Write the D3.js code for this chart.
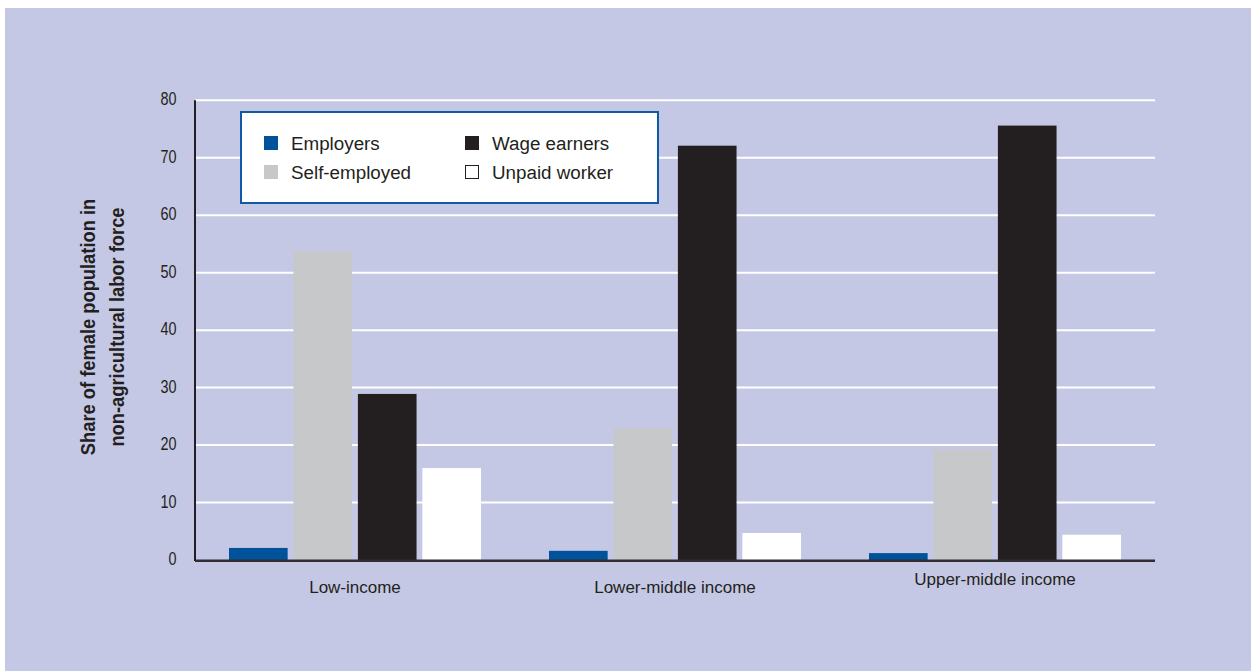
<!DOCTYPE html>
<html>
<head>
<meta charset="utf-8">
<script src="https://cdn.jsdelivr.net/npm/d3@7"></script>
<style>
  html, body { margin: 0; padding: 0; background: #ffffff; }
  svg { display: block; }
  text { font-family: "Liberation Sans", Arial, Helvetica, sans-serif; fill: #231f20; }
</style>
</head>
<body>
<svg id="chart" width="1251" height="671"></svg>
<script>
// Income groups along the x axis
const categories = ["Low-income", "Lower-middle income", "Upper-middle income"];

// Employment status series (share of female non-agricultural labor force, %)
const seriesNames = ["Employers", "Self-employed", "Wage earners", "Unpaid worker"];
const employers    = [2.1, 1.6, 1.2];
const selfEmployed = [53.7, 22.9, 19.2];
const wageEarners  = [28.9, 72.1, 75.6];
const unpaidWorker = [16.0, 4.7, 4.4];

const yTicks = [0, 10, 20, 30, 40, 50, 60, 70, 80];
const yTitleLines = ["Share of female population in", "non-agricultural labor force"];

const seriesValues = [employers, selfEmployed, wageEarners, unpaidWorker];
const colors = ["#00529b", "#c7c8ca", "#231f20", "#ffffff"];

const svg = d3.select("#chart");

// Panel background
svg.append("rect")
  .attr("x", 5).attr("y", 8)
  .attr("width", 1246).attr("height", 663)
  .attr("fill", "#c4c8e4");

const plot = { left: 195, right: 1155, top: 100.3, bottom: 560 };

const x0 = d3.scaleBand()
  .domain(categories)
  .range([plot.left, plot.right])
  .padding(0);

const x1 = d3.scaleBand()
  .domain(seriesNames)
  .range([34, 286])
  .paddingInner(0.09)
  .paddingOuter(0);

const y = d3.scaleLinear()
  .domain([0, 80])
  .range([plot.bottom, plot.top]);

// Horizontal gridlines
svg.append("g")
  .selectAll("line")
  .data(yTicks.filter(d => d > 0))
  .join("line")
  .attr("x1", plot.left).attr("x2", plot.right)
  .attr("y1", d => y(d)).attr("y2", d => y(d))
  .attr("stroke", "#ffffff")
  .attr("stroke-width", 2);

// Y axis tick labels (condensed numerals)
const yAxis = d3.axisLeft(y).tickValues(yTicks).tickSize(0).tickPadding(18);
const yAxisG = svg.append("g")
  .attr("transform", `translate(${plot.left},0)`)
  .call(yAxis);
yAxisG.select(".domain").remove();
yAxisG.selectAll("text")
  .style("font-family", "\"Liberation Sans\", Arial, sans-serif")
  .attr("font-size", 18)
  .attr("fill", "#231f20")
  .attr("x", -23)
  .attr("dy", "0.26em")
  .attr("transform", "scale(0.8,1)");

// Bars
const groups = svg.append("g")
  .selectAll("g")
  .data(categories)
  .join("g")
  .attr("transform", d => `translate(${x0(d)},0)`);

groups.selectAll("rect")
  .data((cat, i) => seriesNames.map((s, k) => ({ series: s, value: seriesValues[k][i], color: colors[k] })))
  .join("rect")
  .attr("x", d => x1(d.series))
  .attr("width", x1.bandwidth())
  .attr("y", d => y(d.value))
  .attr("height", d => y(0) - y(d.value))
  .attr("fill", d => d.color);

// Axis lines
svg.append("line")
  .attr("x1", plot.left).attr("x2", plot.left)
  .attr("y1", plot.top).attr("y2", plot.bottom + 1)
  .attr("stroke", "#231f20").attr("stroke-width", 2);
svg.append("line")
  .attr("x1", plot.left).attr("x2", plot.right)
  .attr("y1", plot.bottom + 0.8).attr("y2", plot.bottom + 0.8)
  .attr("stroke", "#302d33").attr("stroke-width", 2.5);

// Category labels
const catLabelY = [593, 593, 585];
svg.append("g")
  .selectAll("text")
  .data(categories)
  .join("text")
  .attr("x", d => x0(d) + x0.bandwidth() / 2)
  .attr("y", (d, i) => catLabelY[i])
  .attr("text-anchor", "middle")
  .attr("font-size", 17)
  .text(d => d);

// Y axis title
const yTitle = svg.append("text")
  .attr("transform", "translate(0,327) rotate(-90) scale(0.94,1)")
  .attr("text-anchor", "middle")
  .attr("font-size", 19.5)
  .attr("font-weight", "bold");
yTitle.selectAll("tspan")
  .data(yTitleLines)
  .join("tspan")
  .attr("x", 0)
  .attr("y", (d, i) => 95 + i * 29)
  .text(d => d);

// Legend
const legend = svg.append("g");
legend.append("rect")
  .attr("x", 241).attr("y", 112)
  .attr("width", 417).attr("height", 91)
  .attr("fill", "#ffffff")
  .attr("stroke", "#0f5aa8")
  .attr("stroke-width", 2);

const legendPos = [
  { x: 264, y: 136 },
  { x: 264, y: 165 },
  { x: 465, y: 136 },
  { x: 465, y: 165 }
];
const legendItems = legend.selectAll("g")
  .data(seriesNames)
  .join("g")
  .attr("transform", (d, i) => `translate(${legendPos[i].x},${legendPos[i].y})`);
legendItems.append("rect")
  .attr("x", (d, i) => i === 3 ? 0.5 : 0)
  .attr("y", (d, i) => i === 3 ? 0.5 : 0)
  .attr("width", (d, i) => i === 3 ? 13 : 14)
  .attr("height", (d, i) => i === 3 ? 13 : 14)
  .attr("fill", (d, i) => colors[i])
  .attr("stroke", (d, i) => i === 3 ? "#231f20" : "none")
  .attr("stroke-width", 1);
legendItems.append("text")
  .attr("x", 27)
  .attr("y", 14)
  .attr("font-size", 18.8)
  .text(d => d);
</script>
</body>
</html>
